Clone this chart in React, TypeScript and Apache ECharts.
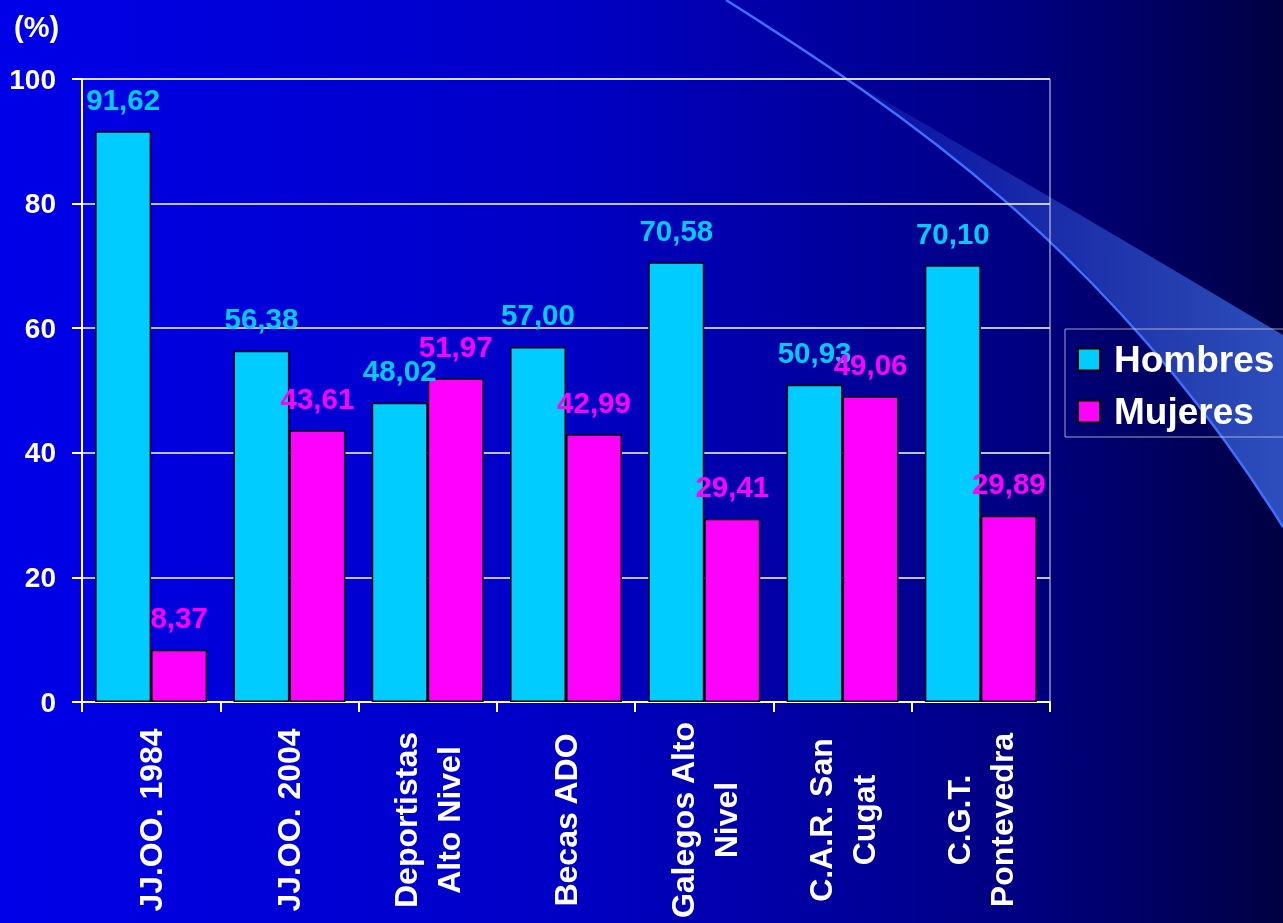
import React, { useEffect, useRef } from "react";
import * as echarts from "echarts";

const categories = [
  "JJ.OO. 1984",
  "JJ.OO. 2004",
  "Deportistas\nAlto Nivel",
  "Becas ADO",
  "Galegos Alto\nNivel",
  "C.A.R. San\nCugat",
  "C.G.T.\nPontevedra",
];
const hombres = [91.62, 56.38, 48.02, 57.0, 70.58, 50.93, 70.1];
const mujeres = [8.37, 43.61, 51.97, 42.99, 29.41, 49.06, 29.89];
const yTicks = { min: 0, max: 100, interval: 20 };

const FONT = "'Liberation Sans', Arial, Helvetica, sans-serif";

echarts.graphic.registerShape(
  "swooshFill",
  echarts.graphic.extendPath(
    "M847 79 Q1065 205 1283 335 L1283 527 C1230 440 1180 380 1137 330 C1060 240 960 160 847 79 Z",
    {}
  )
);
echarts.graphic.registerShape(
  "swooshLine",
  echarts.graphic.extendPath("M726 0 C900 110 1110 250 1283 527", {})
);

const fmt = (p: any) => Number(p.value).toFixed(2).replace(".", ",");

export default function App() {
  const ref = useRef<HTMLDivElement>(null);
  useEffect(() => {
    if (!ref.current) return;
    const chart = echarts.init(ref.current, undefined, { renderer: "svg" });
    chart.setOption({
      animation: false,
      title: {
        text: "(%)",
        left: 9,
        top: 7,
        textStyle: { color: "#ffffff", fontSize: 29, fontWeight: "bold", fontFamily: FONT },
      },
      graphic: [
        {
          type: "rect",
          silent: true,
          z: -100,
          shape: { x: 0, y: 0, width: 1283, height: 923 },
          style: {
            fill: new echarts.graphic.LinearGradient(0, 0, 1, 0, [
              { offset: 0, color: "#0000e8" },
              { offset: 0.45, color: "#0000c4" },
              { offset: 0.8, color: "#000080" },
              { offset: 1, color: "#000042" },
            ]),
          },
        },
        {
          type: "swooshFill",
          silent: true,
          z: -50,
          x: 0,
          y: 0,
          style: {
            fill: new echarts.graphic.LinearGradient(0, 0, 1, 0, [
              { offset: 0, color: "rgba(70,120,255,0.12)" },
              { offset: 0.5, color: "rgba(70,120,255,0.38)" },
              { offset: 1, color: "rgba(70,120,255,0.65)" },
            ]),
            stroke: "none",
          },
        },
        {
          type: "swooshLine",
          silent: true,
          z: -40,
          x: 0,
          y: 0,
          style: { fill: "none", stroke: "#3f6fff", lineWidth: 2.5 },
        },
      ],
      legend: {
        orient: "vertical",
        left: 1065,
        top: 329,
        padding: [12, 30, 7, 12],
        itemWidth: 22,
        itemHeight: 22,
        itemGap: 15,
        borderColor: "rgba(200,200,220,0.8)",
        borderWidth: 1,
        icon: "rect",
        textStyle: { color: "#ffffff", fontSize: 37, fontWeight: "bold", fontFamily: FONT, padding: [0, 0, 0, 9] },
        data: ["Hombres", "Mujeres"],
      },
      grid: {
        left: 82,
        right: 233,
        top: 79,
        bottom: 221,
        show: true,
        borderColor: "#d8d8e8",
        borderWidth: 1,
        backgroundColor: "transparent",
      },
      xAxis: {
        type: "category",
        data: categories,
        axisLine: { lineStyle: { color: "#ffffff", width: 2 } },
        axisTick: { show: true, length: 10, lineStyle: { color: "#ffffff", width: 2 } },
        axisLabel: {
          interval: 0,
          rotate: 90,
          align: "center",
          verticalAlign: "middle",
          margin: 118,
          color: "#ffffff",
          fontSize: 32,
          lineHeight: 43,
          fontWeight: "bold",
          fontFamily: FONT,
        },
      },
      yAxis: {
        type: "value",
        min: yTicks.min,
        max: yTicks.max,
        interval: yTicks.interval,
        axisLine: { show: true, lineStyle: { color: "#ffffff", width: 2 } },
        axisTick: { show: true, length: 10, lineStyle: { color: "#ffffff", width: 2 } },
        splitLine: { show: true, lineStyle: { color: "#ffffff", width: 1.5 } },
        axisLabel: {
          margin: 26,
          color: "#ffffff",
          fontSize: 28,
          fontWeight: "bold",
          fontFamily: FONT,
        },
      },
      series: [
        {
          name: "Hombres",
          type: "bar",
          data: hombres,
          barWidth: 56,
          barGap: "0%",
          itemStyle: { color: "#00ccff", borderColor: "#000000", borderWidth: 1.5 },
          label: {
            show: true,
            position: "top",
            distance: 17,
            formatter: fmt,
            color: "#00ccff",
            fontSize: 29.5,
            fontWeight: "bold",
            fontFamily: FONT,
          },
        },
        {
          name: "Mujeres",
          type: "bar",
          data: mujeres,
          barWidth: 56,
          barGap: "0%",
          itemStyle: { color: "#ff00ff", borderColor: "#000000", borderWidth: 1.5 },
          label: {
            show: true,
            position: "top",
            distance: 17,
            formatter: fmt,
            color: "#ff00ff",
            fontSize: 29.5,
            fontWeight: "bold",
            fontFamily: FONT,
          },
        },
      ],
    });
    return () => chart.dispose();
  }, []);
  return (
    <div
      ref={ref}
      style={{ position: "fixed", left: 0, top: 0, width: 1283, height: 923 }}
    />
  );
}
